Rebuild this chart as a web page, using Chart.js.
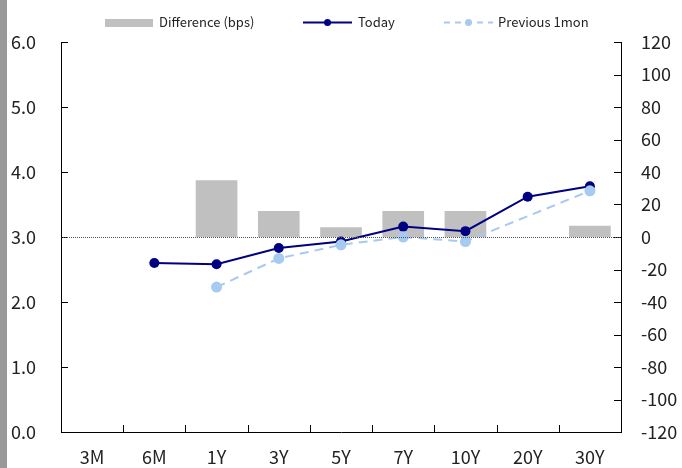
<!DOCTYPE html>
<html>
<head>
<meta charset="utf-8">
<script src="https://cdn.jsdelivr.net/npm/chart.js@4.4.0/dist/chart.umd.min.js"></script>
<style>
  html, body { margin: 0; padding: 0; background: #fff; }
  #wrap { position: relative; width: 682px; height: 468px; }
  #strip { position: absolute; left: 0; top: 0; width: 7px; height: 468px; background: #999999; }
</style>
</head>
<body>
<div id="wrap">
  <canvas id="chartjs-0" width="682" height="468"></canvas>
  <div id="strip"></div>
</div>
<script>
var tenors = ["3M", "6M", "1Y", "3Y", "5Y", "7Y", "10Y", "20Y", "30Y"];
var todayYield = [null, 2.60, 2.58, 2.83, 2.93, 3.16, 3.09, 3.62, 3.78];
var prevYield = [null, null, 2.23, 2.67, 2.88, 3.00, 2.93, null, 3.71];
var diffBps = [null, null, 35, 16, 6, 16, 16, null, 7];
var leftTicks = [0, 1, 2, 3, 4, 5, 6];
var rightTicks = [-120, -100, -80, -60, -40, -20, 0, 20, 40, 60, 80, 100, 120];

var FONT = "'Noto Sans CJK KR', 'Open Sans', sans-serif";

// ticks pointing inward, dotted zero line, legend row
var decorPlugin = {
  id: "decor",
  afterDraw: function (chart) {
    var ctx = chart.ctx;
    var area = chart.chartArea;
    var y = chart.scales.y, y1 = chart.scales.y1, x = chart.scales.x;
    ctx.save();
    ctx.strokeStyle = "#000";
    ctx.lineWidth = 1;
    ctx.beginPath();
    leftTicks.forEach(function (v) {
      var py = Math.round(y.getPixelForValue(v)) + 0.5;
      ctx.moveTo(area.left, py);
      ctx.lineTo(area.left + 7, py);
    });
    rightTicks.forEach(function (v) {
      var py = Math.round(y1.getPixelForValue(v)) + 0.5;
      ctx.moveTo(area.right, py);
      ctx.lineTo(area.right - 7, py);
    });
    for (var i = 1; i < tenors.length; i++) {
      var px = Math.round((x.getPixelForValue(i - 1) + x.getPixelForValue(i)) / 2) + 0.5;
      ctx.moveTo(px, area.bottom);
      ctx.lineTo(px, area.bottom - 7);
    }
    ctx.stroke();

    // zero line
    var zy = Math.round(y1.getPixelForValue(0)) + 0.5;
    ctx.strokeStyle = "#555";
    ctx.setLineDash([1, 1]);
    ctx.beginPath();
    ctx.moveTo(area.left + 2, zy);
    ctx.lineTo(area.right, zy);
    ctx.stroke();
    ctx.setLineDash([]);

    // legend
    var ly = 22.5;
    var ds = chart.data.datasets;
    ctx.font = "13px " + FONT;
    ctx.textBaseline = "middle";
    ctx.fillStyle = "#222";

    ctx.fillStyle = ds[0].backgroundColor;
    ctx.fillRect(105, 19, 48, 8);
    ctx.fillStyle = "#222";
    ctx.fillText(ds[0].label, 159, ly);

    ctx.strokeStyle = ds[1].borderColor;
    ctx.lineWidth = 2;
    ctx.beginPath();
    ctx.moveTo(303, ly);
    ctx.lineTo(352, ly);
    ctx.stroke();
    ctx.fillStyle = ds[1].borderColor;
    ctx.beginPath();
    ctx.arc(327.5, ly, 3.5, 0, Math.PI * 2);
    ctx.fill();
    ctx.fillStyle = "#222";
    ctx.fillText(ds[1].label, 358, ly);

    ctx.strokeStyle = ds[2].borderColor;
    ctx.lineWidth = 2;
    ctx.setLineDash([6, 5]);
    ctx.beginPath();
    ctx.moveTo(444, ly);
    ctx.lineTo(493, ly);
    ctx.stroke();
    ctx.setLineDash([]);
    ctx.fillStyle = ds[2].borderColor;
    ctx.beginPath();
    ctx.arc(468.5, ly, 3.5, 0, Math.PI * 2);
    ctx.fill();
    ctx.fillStyle = "#222";
    ctx.fillText(ds[2].label, 498, ly);
    ctx.restore();
  }
};

var ctx0 = document.getElementById("chartjs-0");
var myChart = new Chart(ctx0, {
  type: "bar",
  data: {
    labels: tenors,
    datasets: [
      {
        type: "bar",
        label: "Difference (bps)",
        data: diffBps,
        yAxisID: "y1",
        backgroundColor: "#C0C0C0",
        categoryPercentage: 1,
        barPercentage: 0.67,
        order: 3
      },
      {
        type: "line",
        label: "Today",
        data: todayYield,
        yAxisID: "y",
        borderColor: "#000080",
        backgroundColor: "#000080",
        borderWidth: 2,
        pointRadius: 5,
        pointBorderWidth: 0,
        tension: 0,
        order: 2
      },
      {
        type: "line",
        label: "Previous 1mon",
        data: prevYield,
        yAxisID: "y",
        borderColor: "#A7CAF0",
        backgroundColor: "#A7CAF0",
        borderWidth: 2,
        borderDash: [9, 6],
        pointRadius: 5.5,
        pointBorderWidth: 0,
        spanGaps: true,
        tension: 0,
        order: 1
      }
    ]
  },
  options: {
    responsive: false,
    animation: false,
    layout: { padding: { top: 42, left: 0, right: 0, bottom: 0 } },
    plugins: { legend: { display: false }, tooltip: { enabled: false } },
    scales: {
      x: {
        grid: { display: false, drawTicks: false },
        border: { display: true, color: "#000", width: 1 },
        ticks: { color: "#222", font: { family: FONT, size: 18 }, padding: 14, maxRotation: 0 },
        afterFit: function (s) { s.height = 36; }
      },
      y: {
        position: "left",
        min: 0,
        max: 6,
        grid: { display: false, drawTicks: false },
        border: { display: true, color: "#000", width: 1 },
        ticks: {
          stepSize: 1,
          color: "#222",
          font: { family: FONT, size: 18 },
          padding: 25,
          callback: function (v) { return v.toFixed(1); }
        },
        afterFit: function (s) { s.width = 61; }
      },
      y1: {
        position: "right",
        min: -120,
        max: 120,
        grid: { display: false, drawTicks: false },
        border: { display: true, color: "#000", width: 1 },
        ticks: { stepSize: 20, color: "#222", font: { family: FONT, size: 18 }, padding: 20 },
        afterFit: function (s) { s.width = 61; }
      }
    }
  },
  plugins: [decorPlugin]
});
</script>
</body>
</html>
